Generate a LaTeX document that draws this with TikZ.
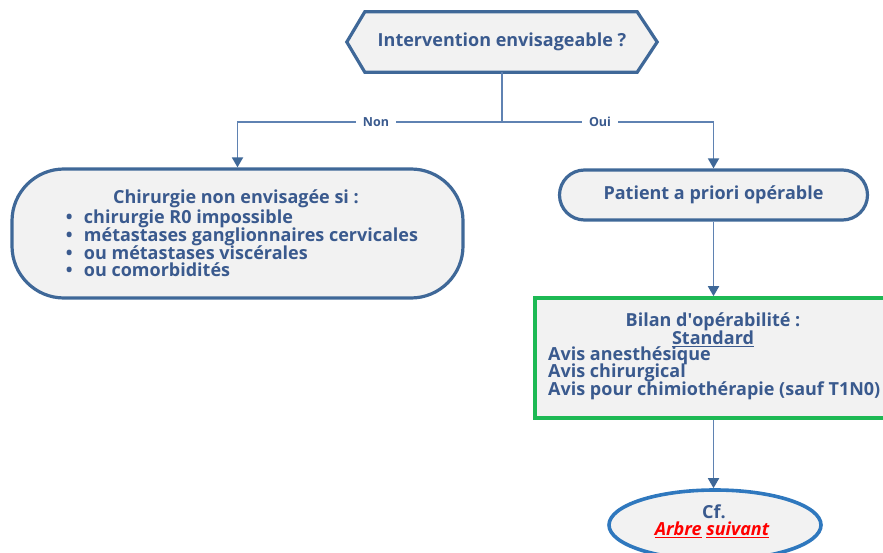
\documentclass[tikz,border=0pt]{standalone}
\usepackage{fontspec}
\setmainfont{Open Sans}
\usetikzlibrary{arrows.meta,shapes.geometric,calc}
\definecolor{txtblue}{HTML}{3A5A8E}
\definecolor{edgeblue}{HTML}{3F6898}
\definecolor{linkblue}{HTML}{5F82B2}
\definecolor{boxfill}{HTML}{F2F2F2}
\definecolor{okgreen}{HTML}{1DB954}
\definecolor{refblue}{HTML}{2F78BE}
\definecolor{linkred}{HTML}{FF0000}
\newcommand{\itemdot}{\makebox[18pt][l]{\textbullet}}
\newcommand{\tightlines}{\lineskiplimit=-20pt\relax}
\tikzset{
  every node/.style={font=\fontsize{18}{17.6}\selectfont\bfseries\tightlines, text=txtblue, inner sep=0pt},
  outline/.style={draw=edgeblue, line width=3.2pt, fill=boxfill},
  stadium/.style={outline, rectangle},
  link/.style={draw=linkblue, line width=1.8pt, -{Triangle[length=10pt,width=11pt,fill=edgeblue,color=edgeblue]}},
  plainlink/.style={draw=linkblue, line width=1.8pt},
  tag/.style={fill=white, font=\fontsize{12.5}{13}\selectfont\bfseries, inner xsep=7pt, inner ysep=2pt},
}
\begin{document}
\begin{tikzpicture}[x=1pt,y=-1pt]
\useasboundingbox (0,0) rectangle (883,553);

% decision hexagon
\node[minimum width=310pt, minimum height=60pt] (q) at (502,42) {};
\draw[outline] (q.west) -- ($(q.north west)+(18,0)$) -- ($(q.north east)+(-20,0)$)
  -- (q.east) -- ($(q.south east)+(-20,0)$) -- ($(q.south west)+(18,0)$) -- cycle;
\node at (q.center) {Intervention envisageable ?};

% left outcome
\node[stadium, rounded corners=52pt, minimum width=451pt, minimum height=129pt] (nogo) at (237.5,233.5) {};
\node (nt) at (236,199) {Chirurgie non envisagée si :};
\node[align=left] (nl) at (242,243.5) {\itemdot chirurgie R0 impossible\\
\itemdot métastases ganglionnaires cervicales\\
\itemdot ou métastases viscérales\\
\itemdot ou comorbidités};

% right outcome
\node[stadium, rounded corners=25pt, minimum width=308pt, minimum height=50pt] (pat) at (713.5,195) {Patient a priori opérable};

% assessment box (runs past the right edge)
\node[draw=okgreen, line width=3.6pt, fill=boxfill, minimum width=356pt, minimum height=120pt] (bilan) at (713,358) {};
\node (bt) at (713,322) {Bilan d\textquotesingle opérabilité :};
\node (bs) at (713,339) {\underline{Standard}};
\node[anchor=west, align=left] (ba) at (548,373) {Avis anesthésique\\Avis chirurgical\\Avis pour chimiothérapie (sauf T1N0)};

% next tree
\node[ellipse, draw=refblue, line width=3.6pt, fill=boxfill, minimum width=212pt, minimum height=70pt] (next) at (715,525) {};
\node (cf) at (714,512) {\fontseries{sb}\selectfont Cf.};
\node (arb) at (712,530) {\color{linkred}\itshape\underline{Arbre} \underline{suivant}};

% connectors
\coordinate (split) at ($(q.south)+(0,50)$);
\coordinate (lturn) at (split -| nogo.north);
\coordinate (rturn) at (split -| pat.north);
\draw[plainlink] (q.south) -- (split);
\draw[link] (split) -- (lturn) -- (nogo.north);
\draw[link] (split) -- (rturn) -- (pat.north);
\node[tag] (non) at (376,122) {Non};
\node[tag] (oui) at (600,122) {Oui};
\draw[link] (pat.south) -- (bilan.north -| pat.south);
\draw[link] (bilan.south -| pat.south) -- (next.north -| pat.south);
\end{tikzpicture}
\end{document}
